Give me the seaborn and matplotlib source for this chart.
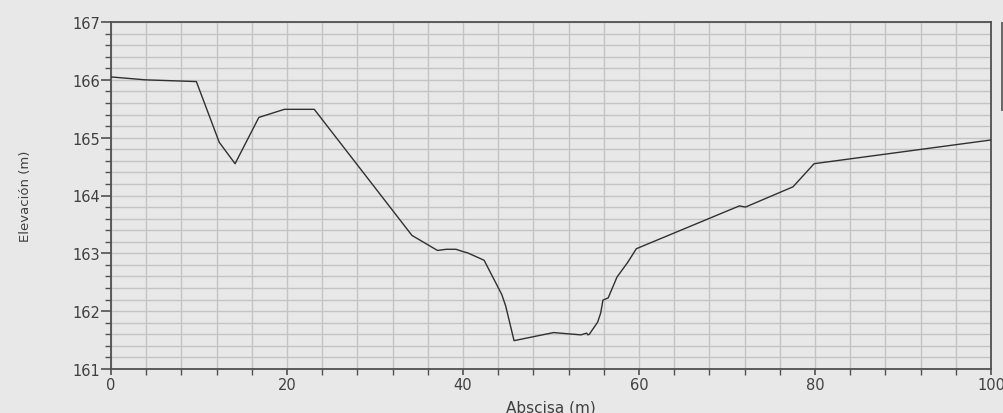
import matplotlib
matplotlib.use("Agg")
import matplotlib.pyplot as plt
import seaborn as sns
import pandas as pd
from matplotlib.ticker import MultipleLocator
from matplotlib.patches import Rectangle

abscisa = [0.0, 3.9, 9.7, 12.3, 14.1, 16.8, 19.7, 23.1, 34.2, 37.1, 38.1, 39.2, 40.0, 40.5,
           42.4, 44.4, 44.85, 45.8, 50.3, 53.4, 54.05, 54.2, 54.35, 55.3, 55.65, 55.9,
           56.5, 57.5, 58.7, 59.7, 71.4, 72.1, 77.5, 79.9, 100.0]
elevacion = [166.05, 166.0, 165.97, 164.92, 164.55, 165.35, 165.49, 165.49, 163.31, 163.05,
             163.07, 163.07, 163.03, 163.01, 162.88, 162.29, 162.09, 161.49, 161.63, 161.59,
             161.62, 161.59, 161.6, 161.81, 161.97, 162.19, 162.23, 162.59, 162.84, 163.08,
             163.82, 163.8, 164.15, 164.55, 164.96]

x_label = "Abscisa (m)"
y_label = "Elevación (m)"

sns.set_theme(style="white")
plt.rcParams['font.family'] = ['DejaVu Sans']

bg = "#e8e8e8"
fig = plt.figure(figsize=(10.04, 4.14), dpi=100, facecolor=bg)
ax = fig.add_axes([111/1004, 1 - 370/414, 880/1004, 347/414])
ax.set_facecolor(bg)

df = pd.DataFrame({"x": abscisa, "y": elevacion})
sns.lineplot(data=df, x="x", y="y", sort=False, color="#303030", linewidth=1.0, ax=ax, zorder=3)

ax.set_xlim(0, 100)
ax.set_ylim(161, 167)
ax.xaxis.set_major_locator(MultipleLocator(20))
ax.xaxis.set_minor_locator(MultipleLocator(4))
ax.yaxis.set_major_locator(MultipleLocator(1))
ax.yaxis.set_minor_locator(MultipleLocator(0.2))

ax.grid(which="both", color="#c4c4c4", linewidth=1.0, zorder=1)
ax.set_axisbelow(True)

for s in ax.spines.values():
    s.set_color("#505050")
    s.set_linewidth(1.3)

ax.tick_params(axis="y", which="major", direction="out", length=7, width=1.2,
               color="#505050", labelsize=10.5, labelcolor="#404040", pad=1, left=True)
ax.tick_params(axis="x", which="major", direction="out", length=4, width=1.2,
               color="#505050", labelsize=10.5, labelcolor="#404040", pad=2, bottom=True)
ax.tick_params(axis="both", which="minor", direction="out", length=4, width=1.0,
               color="#505050", bottom=True, left=True)

ax.set_xlabel(x_label, fontsize=11, color="#404040", labelpad=5)
ax.set_ylabel(y_label, fontsize=9.5, color="#404040", labelpad=29)

fig.patches.append(Rectangle((1001/1004, 1 - 112/414), 3/1004, 89/414,
                             transform=fig.transFigure, facecolor="#6a6a6a",
                             edgecolor="none", figure=fig))

fig.savefig("out.png", dpi=100, facecolor=bg)
